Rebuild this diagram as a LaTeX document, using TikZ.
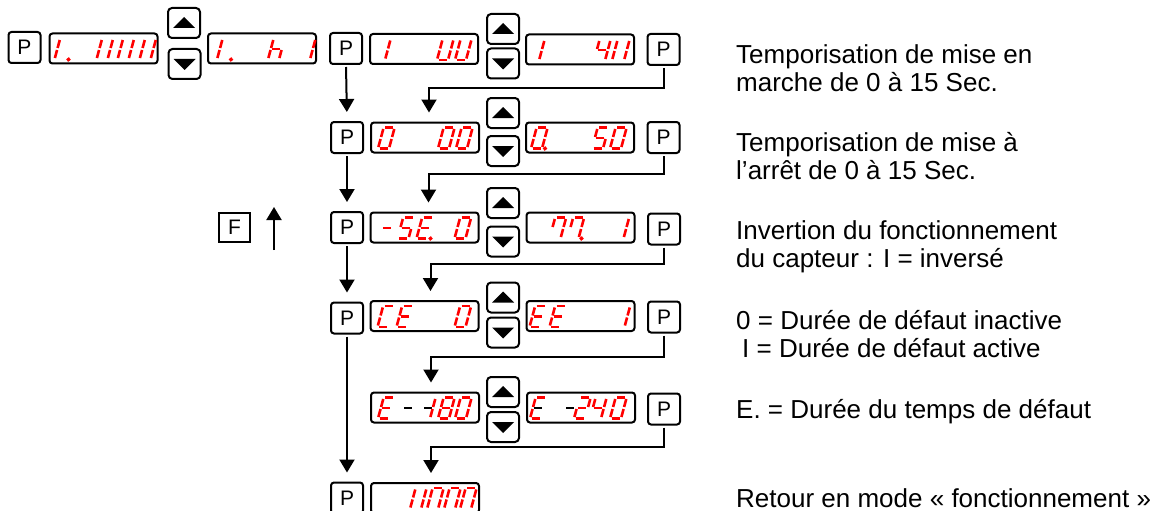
\documentclass[tikz,border=0pt]{standalone}
\usepackage{fontspec}
\setmainfont{Liberation Sans}
\usetikzlibrary{arrows.meta}
%% Segments of one digit of the display (width 11, height 21).
\newcommand{\segA}{(1.5,21) -- (9.5,21)}
\newcommand{\segB}{(11,19.5) -- (11,11.5)}
\newcommand{\segC}{(11,9.5) -- (11,1.5)}
\newcommand{\segD}{(1.5,0) -- (9.5,0)}
\newcommand{\segE}{(0,1.5) -- (0,9.5)}
\newcommand{\segF}{(0,11.5) -- (0,19.5)}
\newcommand{\segG}{(1.5,10.5) -- (9.5,10.5)}
\newcommand{\segP}{(14,0) circle[radius=0.5]}
\newcommand{\segDraw}[1]{\draw[segLine] #1;}
%% A digit: display node, offset from its left side, list of segments.
\newcommand{\segDigit}[3]{%%
  \begin{scope}[shift={(#1.south west)},xshift=#2pt,yshift=5pt,yscale=-1,xslant=-0.27]
    \foreach \s in {#3}{\expandafter\segDraw\csname seg\s\endcsname}
  \end{scope}
}
%% A black dash in a display.
\newcommand{\segDash}[2]{%%
  \begin{scope}[shift={(#1.south west)},xshift=#2pt,yshift=5pt,yscale=-1,xslant=-0.27]
    \draw[dashLine] \segG;
  \end{scope}
}
%% Up and down keys.
\newcommand{\upKey}[3]{%%
  \node[btnStyle] (#1) at (#2,#3) {};
  \fill ([shift={(-11pt,-5pt)}]#1.center) -- ([shift={(11pt,-5pt)}]#1.center)
  -- ([yshift=6pt]#1.center) -- cycle;
}
\newcommand{\downKey}[3]{%%
  \node[btnStyle] (#1) at (#2,#3) {};
  \fill ([shift={(-11pt,5pt)}]#1.center) -- ([shift={(11pt,5pt)}]#1.center)
  -- ([yshift=-6pt]#1.center) -- cycle;
}

\begin{document}
\begin{tikzpicture}[x=1pt,y=-1pt,%%
  keyStyle/.style={draw,line width=2pt,rounded corners=3pt,minimum width=32pt,
    minimum height=31pt,inner sep=0pt,font=\fontsize{21}{21}\selectfont},%%
  fStyle/.style={keyStyle,rounded corners=0pt,minimum height=29pt,minimum width=31pt},%%
  dispStyle/.style={draw,line width=2pt,rounded corners=3pt,minimum width=108pt,
    minimum height=30pt,inner sep=0pt},%%
  btnStyle/.style={draw,line width=2pt,rounded corners=4pt,minimum width=32pt,
    minimum height=30pt,inner sep=0pt},%%
  flowStyle/.style={line width=2pt,-{Triangle[width=15pt,length=13pt]},
    shorten >=9pt,shorten <=2pt},%%
  segLine/.style={red,line width=2.6pt},%%
  dashLine/.style={black,line width=2.6pt},%%
  textStyle/.style={anchor=north west,inner sep=0pt,align=left,
    font=\fontsize{26}{28}\selectfont}
]
\useasboundingbox (0,0) rectangle (1162,511);
%%
%% First row.
\node[keyStyle] (pk10) at (24.5,47.5) {P};
\node[dispStyle] (d11) at (103.5,48.5) {};
\upKey{u11}{184}{23}
\downKey{w11}{184.5}{64}
\node[dispStyle] (d12) at (262,48.5) {};
\node[keyStyle] (pk11) at (346,48.5) {P};
\node[dispStyle] (d13) at (424,49) {};
\upKey{u12}{503}{29}
\downKey{w12}{503}{63.5}
\node[dispStyle] (d14) at (580,49.5) {};
\node[keyStyle] (pk12) at (663.5,49.5) {P};
%%
%% Second row.
\node[keyStyle] (pk21) at (347,137.5) {P};
\node[dispStyle] (d21) at (425,137.5) {};
\upKey{u21}{503}{113}
\downKey{w21}{503}{151}
\node[dispStyle] (d22) at (580,137.5) {};
\node[keyStyle] (pk22) at (663.5,137.5) {P};
%%
%% Third row.
\node[fStyle] (fk) at (234.5,227.5) {F};
\coordinate (fTail) at (274,250);
\coordinate (fHead) at (274,207);
\node[keyStyle] (pk31) at (347,227.5) {P};
\node[dispStyle] (d31) at (424.5,227.5) {};
\upKey{u31}{503}{203}
\downKey{w31}{503}{241.5}
\node[dispStyle] (d32) at (580.5,227.5) {};
\node[keyStyle] (pk32) at (664,229) {P};
%%
%% Fourth row.
\node[keyStyle] (pk41) at (347,318) {P};
\node[dispStyle] (d41) at (424.5,316) {};
\upKey{u41}{503}{297.5}
\downKey{w41}{503}{332.5}
\node[dispStyle] (d42) at (580.5,316) {};
\node[keyStyle] (pk42) at (664,317) {P};
%%
%% Fifth row.
\node[dispStyle] (d51) at (425,407.5) {};
\upKey{u51}{503}{392}
\downKey{w51}{503}{427}
\node[dispStyle] (d52) at (581,407.5) {};
\node[keyStyle] (pk52) at (664,409) {P};
%%
%% Last row.
\node[keyStyle] (pk61) at (347,498) {P};
\node[dispStyle] (d61) at (425,498) {};
%%
%% Digits of the displays.
\segDigit{d11}{6}{E,F,P}
\segDigit{d11}{48}{B,C,E,F}
\segDigit{d11}{69}{B,C,E,F}
\segDigit{d11}{91}{B,C,E,F}
\segDigit{d12}{10}{E,F,P}
\segDigit{d12}{61}{C,E,F,G}
\segDigit{d12}{92}{B,C}
\segDigit{d13}{16}{E,F}
\segDigit{d13}{68}{B,C,D,E,F}
\segDigit{d13}{86}{B,C,D,E,F}
\segDigit{d14}{14}{E,F}
\segDigit{d14}{69}{B,C,F,G}
\segDigit{d14}{87}{E,F}
\segDigit{d14}{99}{E,F}
\segDigit{d21}{8}{A,B,C,D,E,F}
\segDigit{d21}{68}{A,B,C,D,E,F}
\segDigit{d21}{86}{A,B,C,D,E,F}
\segDigit{d22}{6}{A,B,C,D,E,F,P}
\segDigit{d22}{67}{A,C,D,F,G}
\segDigit{d22}{85}{A,B,C,D,E,F}
\segDigit{d31}{9}{G}
\segDigit{d31}{28}{A,C,D,F,G}
\segDigit{d31}{47}{A,D,E,F,G,P}
\segDigit{d31}{85}{A,B,C,D,E,F}
\segDigit{d32}{24}{A,B,C,F}
\segDigit{d32}{42}{A,B,C,F,P}
\segDigit{d32}{98}{E,F}
\segDigit{d41}{8}{A,D,E,F}
\segDigit{d41}{27}{A,D,E,F,G}
\segDigit{d41}{85}{A,B,C,D,E,F}
\segDigit{d42}{4}{A,D,E,F,G}
\segDigit{d42}{24}{A,D,E,F,G}
\segDigit{d42}{99}{E,F}
\segDigit{d51}{8}{A,D,E,F,G}
\segDash{d51}{30}
\segDash{d51}{50}
\segDigit{d51}{60}{E,F}
\segDigit{d51}{68}{A,B,C,D,E,F,G}
\segDigit{d51}{85}{A,B,C,D,E,F}
\segDigit{d52}{4}{A,D,E,F}
\segDash{d52}{4}
\segDash{d52}{36}
\segDigit{d52}{48}{A,B,D,E,G}
\segDigit{d52}{64}{B,C,F,G}
\segDigit{d52}{84}{A,B,C,D,E,F}
\segDigit{d61}{40}{B,C,E,F}
\segDigit{d61}{57}{A,B,C,E,F}
\segDigit{d61}{74}{A,B,C,E,F}
\segDigit{d61}{90}{A,B,C,E,F}
%%
%% Connectors.
\draw[flowStyle] (pk11.south) -- (pk21.north);
\draw[flowStyle] (pk21.south) -- (pk31.north);
\draw[flowStyle] (pk31.south) -- (pk41.north);
\draw[flowStyle] (pk41.south) -- (pk61.north);
\draw[flowStyle] (pk12.south) -- ++(0,22) -| ([xshift=4pt]d21.north);
\draw[flowStyle] (pk22.south) -- ++(0,20) -| ([xshift=4pt]d31.north);
\draw[flowStyle] (pk32.south) -- ++(0,18) -| ([xshift=6pt]d41.north);
\draw[flowStyle] (pk42.south) -- ++(0,23) -| ([xshift=6pt]d51.north);
\draw[flowStyle] (pk52.south) -- ++(0,21) -| ([xshift=6pt]d61.north);
\draw[flowStyle,shorten >=0pt,shorten <=0pt] (fTail) -- (fHead);
%%
%% Explanations.
\node[textStyle] (t1) at (736,44) {Temporisation de mise en\\marche de 0 à 15 Sec.};
\node[textStyle] (t2) at (736,132) {Temporisation de mise à\\l’arrêt de 0 à 15 Sec.};
\node[textStyle] (t3) at (736,220) {Invertion du fonctionnement\\du capteur : I = inversé};
\node[textStyle] (t4) at (736,310) {0 = Durée de défaut inactive\\\hspace*{6pt}I = Durée de défaut active};
\node[textStyle] (t5) at (736,399) {E. = Durée du temps de défaut};
\node[textStyle] (t6) at (736,488) {Retour en mode « fonctionnement »};
\end{tikzpicture}
\end{document}
